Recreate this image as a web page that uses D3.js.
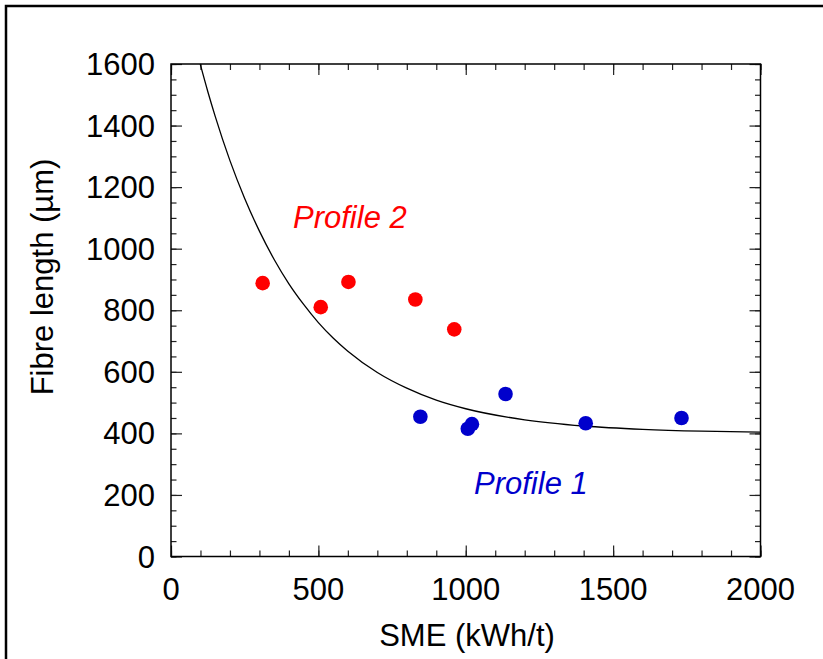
<!DOCTYPE html>
<html><head><meta charset="utf-8">
<script src="https://cdn.jsdelivr.net/npm/d3@7/dist/d3.min.js"></script>
<style>html,body{margin:0;padding:0;background:#fff;} svg{display:block;}</style>
</head><body>
<svg id="chart" width="823" height="659"></svg>
<script>
// ---- data ----
const profile2 = [ // red
  {sme: 311, len: 888},
  {sme: 508, len: 810},
  {sme: 602, len: 892},
  {sme: 829, len: 835},
  {sme: 961, len: 738}
];
const profile1 = [ // blue
  {sme: 846, len: 454},
  {sme: 1007, len: 415},
  {sme: 1021, len: 430},
  {sme: 1135, len: 528},
  {sme: 1407, len: 433},
  {sme: 1732, len: 450}
];
const fitSME = [99, 125, 150, 200, 250, 300, 350, 400, 450, 500, 550, 600, 700, 800, 900, 1000, 1200, 1400, 1600, 1800, 2000];
const fitLen = [1600, 1510, 1430, 1286, 1163, 1057, 965, 886, 819, 760, 710, 667, 598, 547, 508, 480, 444, 424, 413, 407, 404];
const xMajor = [0, 500, 1000, 1500, 2000];
const yMajor = [0, 200, 400, 600, 800, 1000, 1200, 1400, 1600];
const xMinor = d3.range(0, 2001, 100);
const yMinor = d3.range(0, 1601, 50);
const xTitle = "SME (kWh/t)";
const yTitle = "Fibre length (\u00b5m)";
const label1 = "Profile 1", label2 = "Profile 2";

// ---- layout ----
const L = 171, R = 760.5, T = 64, B = 556.5;
const x = d3.scaleLinear().domain([0, 2000]).range([L, R]);
const y = d3.scaleLinear().domain([0, 1600]).range([B, T]);
const svg = d3.select("#chart");
const FONT = "'Liberation Sans', Arial, Helvetica, sans-serif";
const FS = 31;
const RED = "#ff0000", BLUE = "#0000cc";

// outer frame
svg.append("rect").attr("x", 6).attr("y", 6).attr("width", 840).attr("height", 700)
  .attr("fill", "none").attr("stroke", "#000").attr("stroke-width", 2.5);

// ticks (inside, mirrored)
function tickAxis(axis, tr) {
  const g = svg.append("g").attr("transform", tr).call(axis);
  g.select(".domain").remove();
  g.selectAll("line").attr("stroke", "#222").attr("stroke-width", 1.2);
  g.selectAll("text").remove();
  return g;
}
tickAxis(d3.axisBottom(x).tickValues(xMinor).tickSize(-6), `translate(0,${B})`);
tickAxis(d3.axisBottom(x).tickValues(xMajor).tickSize(-11), `translate(0,${B})`);
tickAxis(d3.axisTop(x).tickValues(xMinor).tickSize(-6), `translate(0,${T})`);
tickAxis(d3.axisTop(x).tickValues(xMajor).tickSize(-11), `translate(0,${T})`);
tickAxis(d3.axisLeft(y).tickValues(yMinor).tickSize(-5.5), `translate(${L},0)`);
tickAxis(d3.axisLeft(y).tickValues(yMajor).tickSize(-11), `translate(${L},0)`);
tickAxis(d3.axisRight(y).tickValues(yMinor).tickSize(-5.5), `translate(${R},0)`);
tickAxis(d3.axisRight(y).tickValues(yMajor).tickSize(-11), `translate(${R},0)`);

// plot frame
svg.append("rect").attr("x", L).attr("y", T).attr("width", R - L).attr("height", B - T)
  .attr("fill", "none").attr("stroke", "#000").attr("stroke-width", 1.5);

// tick labels
svg.append("g").selectAll("text").data(xMajor).join("text")
  .attr("x", d => x(d)).attr("y", 600).attr("text-anchor", "middle")
  .attr("font-family", FONT).attr("font-size", FS).text(d => d);
svg.append("g").selectAll("text").data(yMajor).join("text")
  .attr("x", 155).attr("y", d => y(d) + 11).attr("text-anchor", "end")
  .attr("font-family", FONT).attr("font-size", FS).text(d => d);

// axis titles
svg.append("text").attr("x", 467).attr("y", 646).attr("text-anchor", "middle")
  .attr("font-family", FONT).attr("font-size", FS).text(xTitle);
svg.append("text").attr("transform", "translate(53,277) rotate(-90)").attr("text-anchor", "middle")
  .attr("font-family", FONT).attr("font-size", FS).text(yTitle);

// fitted curve
const fit = fitSME.map((s, i) => ({sme: s, len: fitLen[i]}));
svg.append("path").datum(fit)
  .attr("d", d3.line().x(d => x(d.sme)).y(d => y(d.len)).curve(d3.curveMonotoneX))
  .attr("fill", "none").attr("stroke", "#000").attr("stroke-width", 1.3);

// points
svg.append("g").selectAll("circle").data(profile2).join("circle")
  .attr("cx", d => x(d.sme)).attr("cy", d => y(d.len)).attr("r", 7.3).attr("fill", RED);
svg.append("g").selectAll("circle").data(profile1).join("circle")
  .attr("cx", d => x(d.sme)).attr("cy", d => y(d.len)).attr("r", 7.3).attr("fill", BLUE);

// series labels
svg.append("text").attr("x", 293).attr("y", 228).attr("font-family", FONT).attr("font-size", FS)
  .attr("font-style", "italic").attr("fill", RED).text(label2);
svg.append("text").attr("x", 474).attr("y", 494).attr("font-family", FONT).attr("font-size", FS)
  .attr("font-style", "italic").attr("fill", BLUE).text(label1);
</script>
</body></html>
